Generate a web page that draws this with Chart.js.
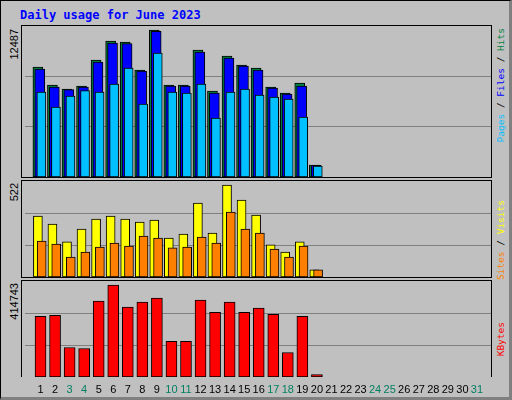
<!DOCTYPE html>
<html>
<head>
<meta charset="utf-8">
<script src="https://cdn.jsdelivr.net/npm/chart.js@4"></script>
<style>
  body { margin: 0; background: #fff; }
  #page { position: absolute; left: 0; top: 0; width: 508px; height: 396px; background: #c0c0c0;
          border: 1px solid #000; border-right: 3px solid #808080; border-bottom: 3px solid #808080; }
  .panel { position: absolute; left: 20px; width: 469px; border: 1px solid #000; box-sizing: content-box; }
  .panel canvas { position: absolute; left: 0; top: 0; }
  .vlab { position: absolute; writing-mode: vertical-rl; transform: rotate(180deg);
          font: 9.5px "DejaVu Sans Mono", monospace; white-space: pre; }
  .num { font: 11px "Liberation Sans", sans-serif; color: #000; }
  #title { position: absolute; left: 19px; top: 7px; font: bold 12px "DejaVu Sans Mono", monospace; color: #0000ff; }
</style>
</head>
<body>
<div id="page">
  <div id="title">Daily usage for June 2023</div>
  <div class="panel" style="top:24px;height:151px"><canvas id="c1" width="469" height="151"></canvas></div>
  <div class="panel" style="top:179px;height:96px"><canvas id="c2" width="469" height="96"></canvas></div>
  <div class="panel" style="top:279px;height:96px;border-bottom:none"><canvas id="c3" width="469" height="118"></canvas></div>

  <div class="vlab num" style="left:7px;top:28px">12487</div>
  <div class="vlab num" style="left:7px;top:182px">522</div>
  <div class="vlab num" style="left:7px;top:282px">414743</div>

  <div class="vlab" style="left:494px;top:27px"><span style="color:#00c0ff">Pages</span> / <span style="color:#0000ff">Files</span> / <span style="color:#008040">Hits</span></div>
  <div class="vlab" style="left:494px;top:199px"><span style="color:#ff8000">Sites</span> / <span style="color:#ffff00">Visits</span></div>
  <div class="vlab" style="left:494px;top:321px"><span style="color:#ff0000">KBytes</span></div>
</div>
<script>
var days = [];
for (var d = 1; d <= 31; d++) days.push(d);
var weekend = [3, 4, 10, 11, 17, 18, 24, 25, 31];

var hits   = [9344, 7815, 7475, 7730, 9939, 11553, 11468, 9089, 12487, 7815, 7815, 10788, 7305, 10278, 9514, 9259, 7645, 7135, 7985, 1019];
var files  = [9174, 7645, 7418, 7645, 9769, 11383, 11326, 9004, 12374, 7730, 7730, 10618, 7135, 10108, 9429, 9089, 7560, 7050, 7730, 991];
var pages  = [7220, 5946, 6881, 7334, 7220, 7900, 9259, 6201, 10533, 7220, 7135, 7900, 5012, 7220, 7475, 6966, 6796, 6626, 5097, 934];
var visits = [346, 301, 199, 272, 329, 346, 329, 312, 323, 221, 244, 420, 250, 522, 437, 352, 182, 142, 199, 40];
var sites  = [204, 187, 113, 142, 170, 193, 176, 233, 221, 165, 170, 227, 193, 369, 272, 250, 159, 113, 176, 40];
var kbytes = [273973, 278514, 133202, 128661, 342086, 414743, 314840, 337545, 355710, 160449, 160449, 346627, 292135, 337545, 292135, 310299, 283055, 110497, 273973, 10596];

function pts(arr) {
  return arr.map(function(v, i) { return { x: days[i], y: v }; });
}

function xAxis(shift, show) {
  return {
    type: 'linear', display: show, min: 0.5 - shift, max: 31.5 - shift,
    grid: { display: false, drawTicks: false }, border: { display: false },
    afterBuildTicks: function(s) { s.ticks = days.map(function(v) { return { value: v }; }); },
    afterFit: function(s) { if (show) s.height = 22; },
    ticks: {
      display: show, autoSkip: false, maxRotation: 0, padding: 6,
      font: { family: 'Liberation Sans', size: 11 },
      color: function(c) { return weekend.indexOf(c.tick.value) >= 0 ? '#008060' : '#000'; }
    }
  };
}

function panel(id, datasets, axes, ymax) {
  var scales = {
    y: {
      min: 0, max: ymax, display: true,
      ticks: { display: false }, border: { display: false },
      grid: { color: '#808080', drawTicks: false, lineWidth: 1 },
      afterBuildTicks: function(s) { s.ticks = [{ value: ymax / 3 }, { value: ymax * 2 / 3 }]; }
    }
  };
  for (var k in axes) scales[k] = axes[k];
  new Chart(document.getElementById(id).getContext('2d'), {
    type: 'bar',
    data: { datasets: datasets },
    options: {
      responsive: false, animation: false, devicePixelRatio: 1,
      layout: { padding: { left: 3, right: 0, top: 0, bottom: 0 } },
      plugins: { legend: { display: false }, tooltip: { enabled: false } },
      scales: scales
    }
  });
}

function bar(data, color, xid, w, order) {
  return { data: pts(data), backgroundColor: color, borderColor: '#000', borderWidth: 1,
           borderSkipped: false, barThickness: w, grouped: false, xAxisID: xid, order: order };
}

panel('c1', [
  bar(hits, '#008040', 'xh', 10, 3),
  bar(files, '#0000ff', 'xf', 10, 2),
  bar(pages, '#00c0ff', 'xp', 9, 1)
], { xh: xAxis(-0.13, false), xf: xAxis(0, false), xp: xAxis(0.11, false) }, 12827);

panel('c2', [
  bar(visits, '#ffff00', 'xv', 9, 2),
  bar(sites, '#ff8000', 'xs', 9, 1)
], { xv: xAxis(-0.13, false), xs: xAxis(0.13, false) }, 545);

panel('c3', [
  bar(kbytes, '#ff0000', 'xk', 11, 1)
], { xk: xAxis(0.05, true) }, 432900);
</script>
</body>
</html>
